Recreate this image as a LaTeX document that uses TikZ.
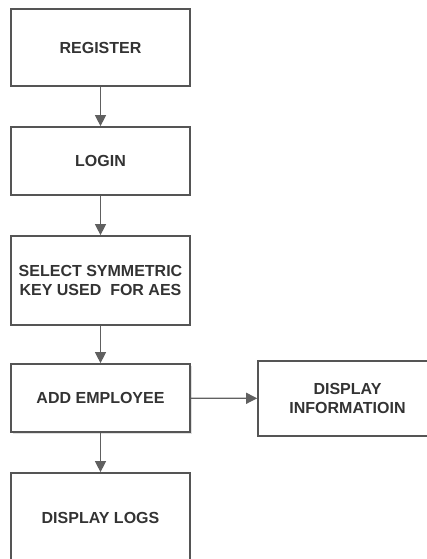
\documentclass[tikz,border=0pt]{standalone}
\usepackage{fontspec}
\setmainfont{Liberation Sans}
\usetikzlibrary{arrows.meta,positioning,shadows}
\definecolor{boxline}{HTML}{555555}
\definecolor{boxtext}{HTML}{333333}
\definecolor{arrowline}{HTML}{606060}

\begin{document}
\begin{tikzpicture}[x=1pt, y=-1pt,
    flowbox/.style={draw=boxline, line width=1.7pt, rectangle, minimum width=179pt,
      align=center, font=\fontsize{16}{18.5}\selectfont\bfseries, text=boxtext},
    flowarrow/.style={draw=arrowline, line width=1.2pt, -{Triangle[length=11pt, width=11pt]}}]
        \path[use as bounding box, clip] (0,0) rectangle (427,559);
        %nodes
        \node[flowbox, minimum height=77pt] (register) at (100.5, 47.5) {REGISTER};
        \node[flowbox, minimum height=68pt] (login) at (100.5, 161) {LOGIN};
        \node[flowbox, minimum height=89pt] (select) at (100.5, 280.5) {SELECT SYMMETRIC\\KEY USED \ FOR AES};
        \node[flowbox, minimum height=68pt, fill=white,
          drop shadow={opacity=0.25, shadow xshift=1.5pt, shadow yshift=-1.5pt}] (add) at (100.5, 398) {ADD EMPLOYEE};
        \node[flowbox, minimum height=75pt] (info) at (347.5, 398.5) {DISPLAY\\INFORMATIOIN};
        \node[flowbox, minimum height=90pt] (logs) at (100.5, 518) {DISPLAY LOGS};
        %edges
        \path [flowarrow] (register) to (login);
        \path [flowarrow] (login) to (select);
        \path [flowarrow] (select) to (add);
        \path [flowarrow] (add) to (logs);
        \path [flowarrow] (add) to (info);
\end{tikzpicture}
\end{document}
